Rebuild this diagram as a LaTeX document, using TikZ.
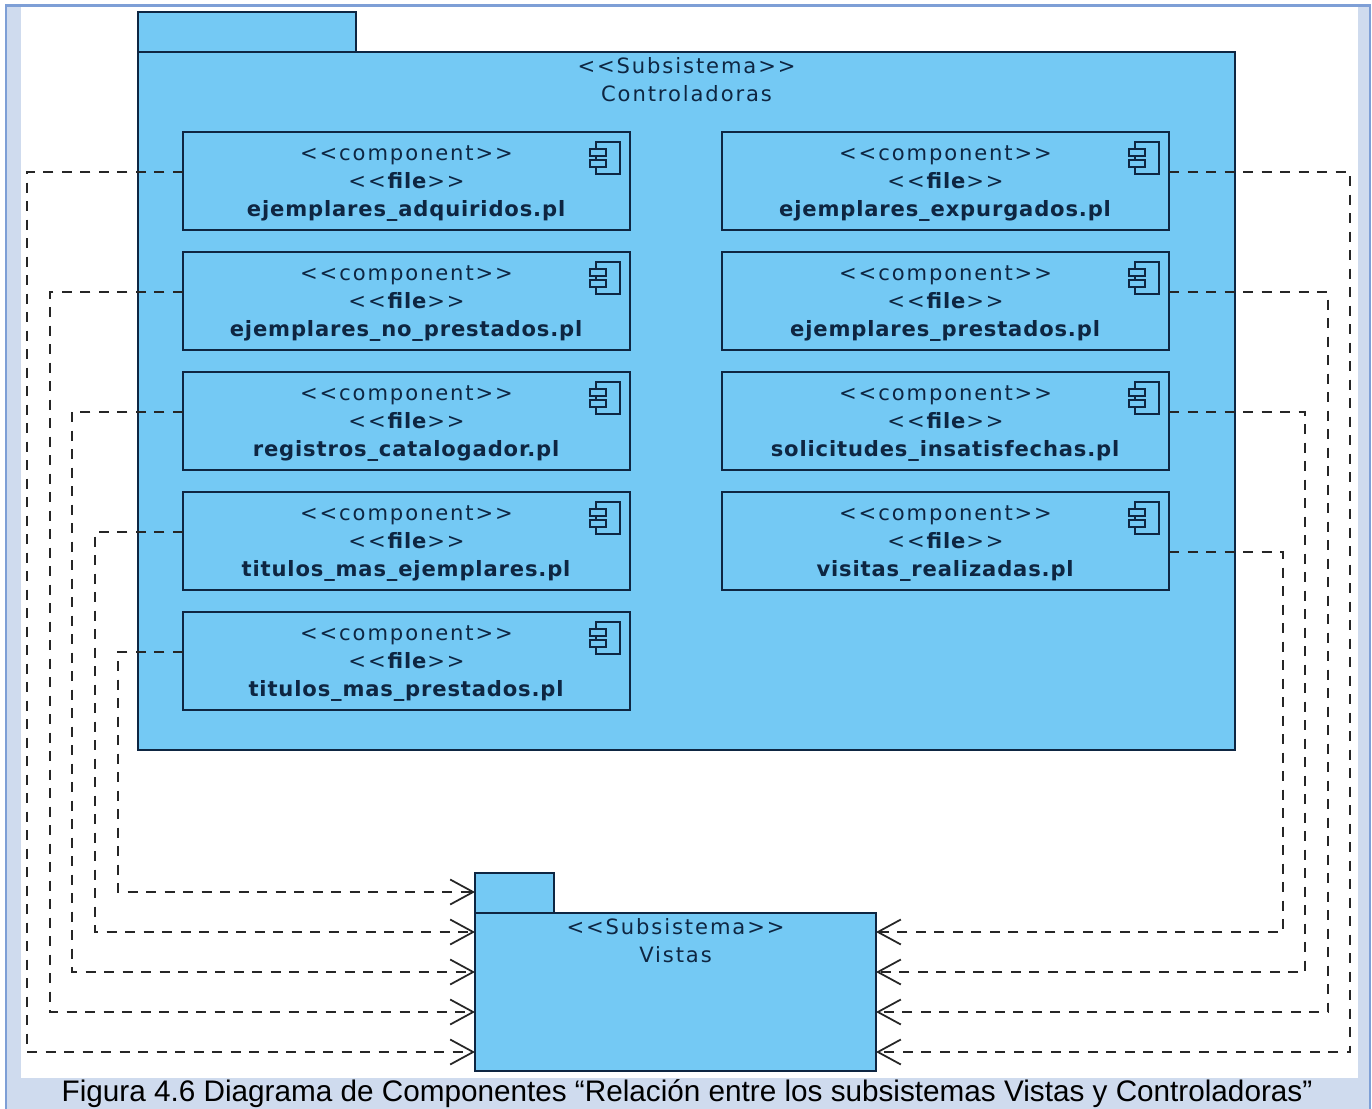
\documentclass[tikz,border=0pt]{standalone}
\usepackage{fontspec}
\setmainfont{Liberation Sans}
\newfontfamily\umlfont[LetterSpace=9,BoldFeatures={LetterSpace=4}]{DejaVu Sans}
\usepackage{tikz}
\usetikzlibrary{arrows.meta, positioning}
\definecolor{pkgblue}{RGB}{116, 201, 244}
\definecolor{inkblue}{RGB}{14, 38, 66}
\definecolor{pagewhite}{RGB}{255, 255, 255}
\definecolor{bandblue}{RGB}{207, 219, 238}
\definecolor{edgeblue}{RGB}{126, 159, 214}
\newcommand{\compbox}[1]{\rule{0pt}{11.8pt}<{}<component>{}>\\<{}<\textbf{file}>{}>\\\textbf{#1}}

\begin{document}
\begin{tikzpicture}[x=0.2mm, y=-0.2mm,
    pkg/.style={rectangle, draw=inkblue, fill=pkgblue, line width=0.04cm, inner sep=0pt, outer sep=0pt, anchor=north west},
    comp/.style={rectangle, draw=inkblue, fill=pkgblue, line width=0.04cm, inner sep=0pt, outer sep=0pt, minimum width=8.94cm, minimum height=1.96cm, align=center, text=inkblue, font=\umlfont\fontsize{12}{15.9}\selectfont},
    pkgtext/.style={align=center, inner sep=0pt, text=inkblue, font=\umlfont\fontsize{12}{15.9}\selectfont},
    icon/.style={draw=inkblue, fill=pkgblue, line width=0.03cm},
    dep/.style={draw=black!85, line width=0.045cm, dash pattern=on 0.2cm off 0.17cm, -{Straight Barb[length=0.46cm, width=0.5cm, line width=0.035cm]}}
]
\useasboundingbox (0,0) rectangle (1372,1109);

% page frame
\fill [edgeblue] (5,4) rectangle (1371,1109);
\fill [bandblue] (7,7) rectangle (1369,1109);
\fill [pagewhite] (21,7) rectangle (1358,1078);

% packages
\node (controladorasTab) [pkg, minimum width=4.36cm, minimum height=0.8cm] at (138,12) {};
\node (controladoras) [pkg, minimum width=21.94cm, minimum height=13.96cm] at (138,52) {};
\node (controladorasText) [pkgtext, below=0.10cm of controladoras.north] {<{}<Subsistema>{}>\\Controladoras};
\node (vistasTab) [pkg, minimum width=1.58cm, minimum height=0.8cm] at (475,873) {};
\node (vistas) [pkg, minimum width=8.02cm, minimum height=3.16cm] at (475,913) {};
\node (vistasText) [pkgtext, below=0.10cm of vistas.north] {<{}<Subsistema>{}>\\Vistas};

% components, left column
\node (adquiridos) [comp] at (406.5,181) {\compbox{ejemplares\_adquiridos.pl}};
\node (noprestados) [comp, below=0.44cm of adquiridos] {\compbox{ejemplares\_no\_prestados.pl}};
\node (registros) [comp, below=0.44cm of noprestados] {\compbox{registros\_catalogador.pl}};
\node (titulosej) [comp, below=0.44cm of registros] {\compbox{titulos\_mas\_ejemplares.pl}};
\node (titulospr) [comp, below=0.44cm of titulosej] {\compbox{titulos\_mas\_prestados.pl}};

% components, right column
\node (expurgados) [comp, right=1.84cm of adquiridos] {\compbox{ejemplares\_expurgados.pl}};
\node (prestados) [comp, below=0.44cm of expurgados] {\compbox{ejemplares\_prestados.pl}};
\node (solicitudes) [comp, below=0.44cm of prestados] {\compbox{solicitudes\_insatisfechas.pl}};
\node (visitas) [comp, below=0.44cm of solicitudes] {\compbox{visitas\_realizadas.pl}};

% component icons
\foreach \name in {adquiridos,noprestados,registros,titulosej,titulospr,expurgados,prestados,solicitudes,visitas} {
    \draw [icon, shift={(\name.north east)}] (-34,10) rectangle (-10,42);
    \draw [icon, shift={(\name.north east)}] (-40,17) rectangle (-24,24);
    \draw [icon, shift={(\name.north east)}] (-40,28) rectangle (-24,35);
}

% dependencies to the left
\foreach \from/\busx/\toy in {adquiridos/27/1052, noprestados/50/1012, registros/72/972, titulosej/95/932, titulospr/118/892} {
    \draw [dep] ([yshift=-0.8cm]\from.north west) -| (\busx,\toy) -- (vistas.west |- 0,\toy);
}

% dependencies to the right
\foreach \from/\drop/\busx/\toy in {expurgados/0.8/1350/1052, prestados/0.8/1328/1012, solicitudes/0.8/1305/972, visitas/1.2/1283/932} {
    \draw [dep] ([yshift=-\drop cm]\from.north east) -| (\busx,\toy) -- (vistas.east |- 0,\toy);
}

% caption
\node (caption) [anchor=base, inner sep=0pt, font=\fontsize{16.9}{20}\selectfont] at (687,1101) {Figura 4.6 Diagrama de Componentes “Relación entre los subsistemas Vistas y Controladoras”};
\end{tikzpicture}
\end{document}
